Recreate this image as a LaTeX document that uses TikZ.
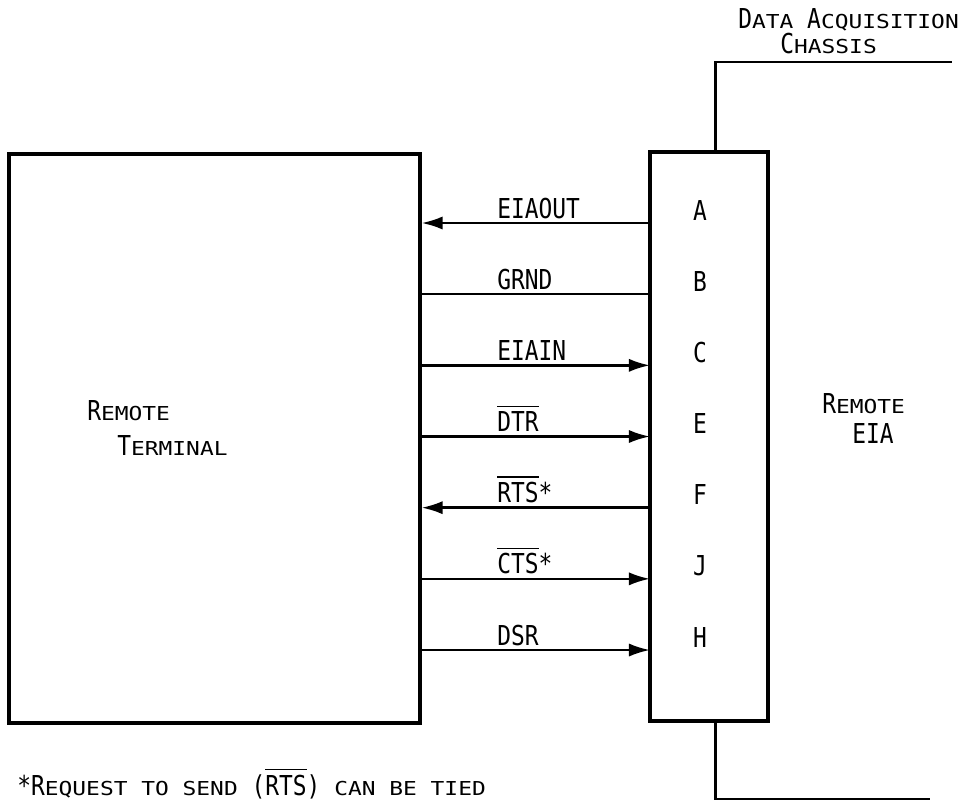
\documentclass[tikz,border=0pt]{standalone}
\usepackage{fontspec}
\setmainfont{DejaVu Sans Mono}[FakeStretch=0.835]
\usepackage{graphicx}
\usetikzlibrary{arrows.meta,positioning}
\newcommand{\smcp}[2]{#1\scalebox{1}[0.7]{#2}}
\newcommand{\ovl}[1]{\setbox0\hbox{#1}\rlap{\rule[\dimexpr\ht0+2.5pt\relax]{\wd0}{0.9pt}}\box0}

\begin{document}
\begin{tikzpicture}[x=0.02cm,y=-0.02cm,>={Latex[length=12pt,width=7.5pt]},
  box/.style={draw,line width=1.8pt,minimum width=#1,minimum height=11.38cm,inner sep=0pt},
  wire/.style={line width=1.4pt},
  lbl/.style={anchor=base west,inner sep=0pt,font=\fontsize{15.6}{18}\selectfont}]
\useasboundingbox (0,0) rectangle (975,802);
\node[box=8.22cm] (term) at (214.5,438.5) {};
\node[box=2.36cm] (eia) at (709,436.5) {};
\foreach \pin/\sig/\dir [count=\i from 0] in {A/EIAOUT/<-,B/GRND/-,C/EIAIN/->,E/\ovl{DTR}/->,F/\ovl{RTS}*/<-,J/\ovl{CTS}*/->,H/DSR/->}{
  \coordinate (row\pin) at (650,223+\i*71.17);
  \draw[wire,\dir] (row\pin -| term.east) -- (row\pin);
  \node[lbl] (sig\pin) at (497,218+\i*71.17) {\sig};
  \node[lbl,anchor=base] (pin\pin) at (700,220+\i*71.17) {\pin};
}
\node[lbl] (daq) at (738,28) {\smcp{D}{ATA} \smcp{A}{CQUISITION}};
\node[lbl] (chassis) at (780,53) {\smcp{C}{HASSIS}};
\coordinate (busTop) at (952,62);
\coordinate (busBot) at (930,799);
\draw[line width=1.5pt] (eia.north west) ++(67,0) |- (busTop);
\draw[line width=1.5pt] (eia.south west) ++(67,0) |- (busBot);
\node[lbl] (termA) at (87,420) {\smcp{R}{EMOTE}};
\node[lbl] (termB) at (117,455) {\smcp{T}{ERMINAL}};
\node[lbl] (eiaA) at (822,413) {\smcp{R}{EMOTE}};
\node[lbl] (eiaB) at (852,443) {EIA};
\node[lbl] (note) at (17,795) {*\smcp{R}{EQUEST TO SEND} (\ovl{RTS}) \scalebox{1}[0.7]{CAN BE TIED}};
\end{tikzpicture}
\end{document}
